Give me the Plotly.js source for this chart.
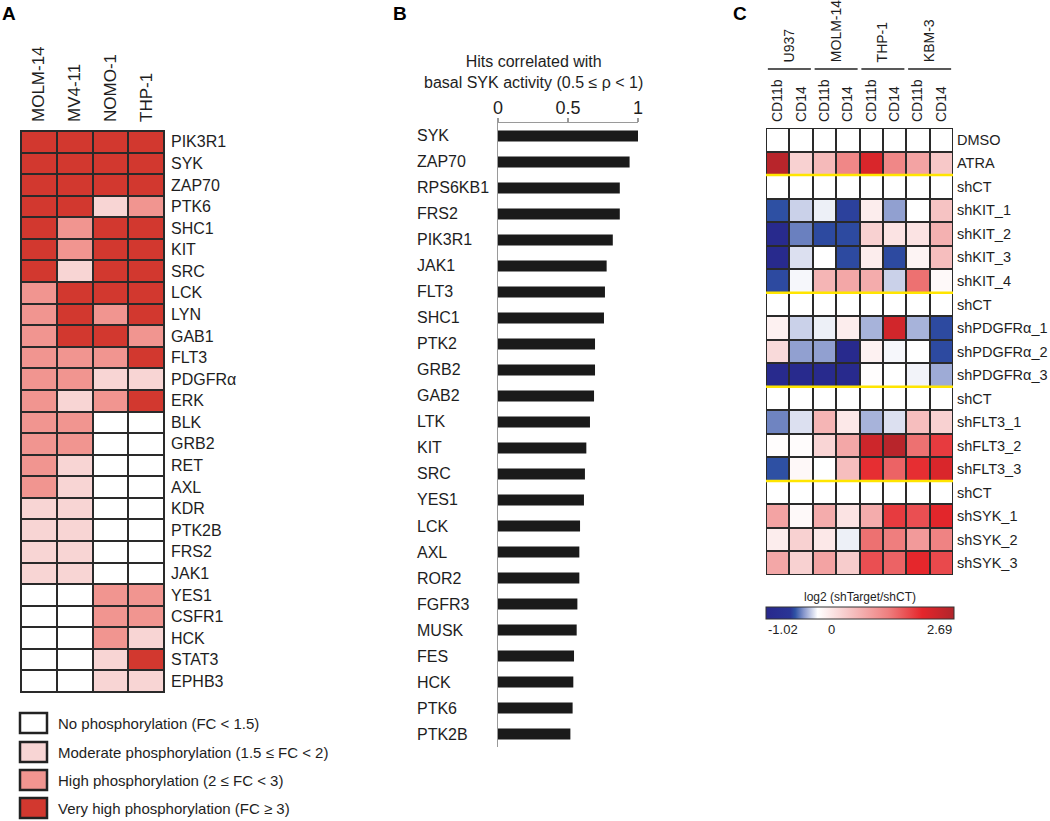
<!DOCTYPE html>
<html>
<head>
<meta charset="utf-8">
<script src="https://cdn.plot.ly/plotly-3.0.1.min.js"></script>
<style>html,body{margin:0;padding:0;background:#fff;}#chart{width:1050px;height:821px;}</style>
</head>
<body>
<div id="chart"></div>
<script>
// ---------- Panel A data ----------
const aCols = ['MOLM-14', 'MV4-11', 'NOMO-1', 'THP-1'];
const aGenes = ['PIK3R1','SYK','ZAP70','PTK6','SHC1','KIT','SRC','LCK','LYN','GAB1','FLT3','PDGFRα','ERK',
  'BLK','GRB2','RET','AXL','KDR','PTK2B','FRS2','JAK1','YES1','CSFR1','HCK','STAT3','EPHB3'];
// 0 = none, 1 = moderate, 2 = high, 3 = very high
const aLevels = [
  [3,3,3,3],[3,3,3,3],[3,3,3,3],[3,3,1,2],[3,2,3,3],[3,2,3,3],[3,1,3,3],[2,3,3,3],[2,3,2,3],[2,3,3,2],
  [2,2,2,3],[2,2,1,1],[2,1,2,3],[2,2,0,0],[2,2,0,0],[2,1,0,0],[2,1,0,0],[1,1,0,0],[1,1,0,0],[1,1,0,0],
  [1,1,0,0],[0,0,2,2],[0,0,2,2],[0,0,2,1],[0,0,1,3],[0,0,1,1]
];
const aLegend = ['No phosphorylation (FC < 1.5)', 'Moderate phosphorylation (1.5 ≤ FC < 2)',
  'High phosphorylation (2 ≤ FC < 3)', 'Very high phosphorylation (FC ≥ 3)'];
const aPalette = ['#ffffff', '#f8d5d4', '#f19590', '#d2382f'];

// ---------- Panel B data ----------
const bGenes = ['SYK','ZAP70','RPS6KB1','FRS2','PIK3R1','JAK1','FLT3','SHC1','PTK2','GRB2','GAB2','LTK',
  'KIT','SRC','YES1','LCK','AXL','ROR2','FGFR3','MUSK','FES','HCK','PTK6','PTK2B'];
const bRho = [1.0,0.94,0.87,0.87,0.82,0.776,0.764,0.757,0.693,0.693,0.686,0.657,
  0.631,0.621,0.614,0.586,0.581,0.581,0.567,0.562,0.543,0.538,0.533,0.517];
const bTicks = [0, 0.5, 1];
const bTickText = ['0', '0.5', '1'];

// ---------- Panel C data ----------
const cCols = ['CD11b','CD14','CD11b','CD14','CD11b','CD14','CD11b','CD14'];
const cGroups = ['U937','MOLM-14','THP-1','KBM-3'];
const cRows = ['DMSO','ATRA','shCT','shKIT_1','shKIT_2','shKIT_3','shKIT_4','shCT',
  'shPDGFRα_1','shPDGFRα_2','shPDGFRα_3','shCT','shFLT3_1','shFLT3_2','shFLT3_3','shCT',
  'shSYK_1','shSYK_2','shSYK_3'];
const cValues = [
  [0,0,0,0,0,0,0,0],
  [2.6,0.5,0.75,1.3,2.2,1.3,1.0,0.6],
  [0,0,0,0,0,0,0,0],
  [-0.45,-0.12,-0.04,-0.5,0.2,-0.25,0,0.65],
  [-0.95,-0.33,-0.47,-0.47,0.5,0.3,0.3,0.85],
  [-0.95,-0.08,0,-0.47,0.2,-0.47,0.12,0.7],
  [-0.47,-0.02,0.8,0.95,0.9,-0.12,1.5,0.06],
  [0,0,0,0,0,0,0,0],
  [0.15,-0.12,-0.04,0.2,-0.2,2.3,-0.2,-0.47],
  [0.4,-0.25,-0.25,-0.95,0.15,-0.02,0,-0.47],
  [-0.95,-0.95,-0.95,-0.95,0.02,0,-0.03,-0.22],
  [0,0,0,0,0,0,0,0],
  [-0.32,-0.08,0.8,0.25,-0.2,-0.08,0.7,0.5],
  [0.02,0.03,0.45,0.95,2.35,2.6,1.5,1.9],
  [-0.45,0.08,0,0.7,2.0,1.6,2.0,2.2],
  [0,0,0,0,0,0,0,0],
  [1.0,0.06,0.9,0.3,0.9,1.9,1.75,2.1],
  [0.2,0.5,0.25,-0.04,1.5,1.4,1.1,1.35],
  [0.95,0.5,1.0,0.55,1.75,1.6,2.05,1.8]
];
const cMin = -1.02, cMax = 2.69;
const cbTickText = ['-1.02', '0', '2.69'];

// ---------- helpers ----------
const W = 1050, H = 821;
const px = v => v / W;
const py = v => 1 - v / H;
const FONT = 'Liberation Sans, Arial, Helvetica, sans-serif';
const INK = '#1e1e1e';
const BORDER = '#2a2a2a';

const cX = cCols.map((_, i) => i);
const cY = cRows.map((_, i) => i);

const aScale = [[0, aPalette[0]], [0.1667, aPalette[0]], [0.1667, aPalette[1]], [0.5, aPalette[1]],
  [0.5, aPalette[2]], [0.8333, aPalette[2]], [0.8333, aPalette[3]], [1, aPalette[3]]];

const cScale = [[0,'#28288c'],[0.13,'#2a3596'],[0.155,'#2e52a4'],[0.2,'#8595cb'],[0.275,'#ffffff'],
  [0.45,'#f6c3c3'],[0.65,'#ef7f7f'],[0.83,'#e5262b'],[1,'#b0252b']];

const traces = [
  {
    type: 'heatmap', x: aCols, y: aGenes, z: aLevels, xaxis: 'x', yaxis: 'y',
    zmin: 0, zmax: 3, colorscale: aScale, showscale: false, xgap: 2, ygap: 2, hoverinfo: 'skip'
  },
  {
    type: 'bar', orientation: 'h', x: bRho, y: bGenes, xaxis: 'x2', yaxis: 'y2',
    marker: { color: '#1a1a1a' }, width: 0.42, hoverinfo: 'skip'
  },
  {
    type: 'heatmap', x: cX, y: cY, z: cValues, xaxis: 'x3', yaxis: 'y3',
    zmin: cMin, zmax: cMax, colorscale: cScale, xgap: 2, ygap: 2, hoverinfo: 'skip',
    colorbar: {
      orientation: 'h', x: px(860), xanchor: 'center', y: py(620), yanchor: 'bottom',
      len: 188, lenmode: 'pixels', thickness: 12, thicknessmode: 'pixels',
      outlinecolor: '#333', outlinewidth: 1, showticklabels: false, ticks: '',
      xpad: 0, ypad: 0,
      title: { text: 'log2 (shTarget/shCT)', side: 'top', font: { size: 12, color: INK, family: FONT } }
    }
  }
];

const shapes = [];
const annotations = [];

// Panel A borders
shapes.push({ type: 'rect', xref: 'x', yref: 'y', x0: -0.5, x1: aCols.length - 0.5, y0: -0.5, y1: aGenes.length - 0.5,
  fillcolor: BORDER, line: { width: 0 }, layer: 'below' });
shapes.push({ type: 'rect', xref: 'x', yref: 'y', x0: -0.5, x1: aCols.length - 0.5, y0: -0.5, y1: aGenes.length - 0.5,
  line: { color: BORDER, width: 2 } });

// Panel A legend
const legTops = [713, 742, 770, 798];
aLegend.forEach((t, i) => {
  shapes.push({ type: 'rect', xref: 'paper', yref: 'paper', x0: px(20), x1: px(47), y0: py(legTops[i]), y1: py(legTops[i] + 20),
    fillcolor: aPalette[i], line: { color: '#222', width: 2.5 } });
  annotations.push({ xref: 'paper', yref: 'paper', x: px(56), y: py(legTops[i] + 10), xanchor: 'left', yanchor: 'middle',
    text: t, showarrow: false, font: { size: 15, color: INK, family: FONT } });
});

// Panel B labels and title
bGenes.forEach(g => {
  annotations.push({ xref: 'paper', yref: 'y2', x: px(415), y: g, xanchor: 'left', yanchor: 'middle',
    text: g, showarrow: false, font: { size: 16, color: INK, family: FONT } });
});
annotations.push({ xref: 'paper', yref: 'paper', x: px(533), y: py(72), xanchor: 'center', yanchor: 'middle',
  text: 'Hits correlated with<br>basal SYK activity (0.5 ≤ ρ < 1)', showarrow: false,
  font: { size: 16, color: INK, family: FONT } });

// Panel C borders
shapes.push({ type: 'rect', xref: 'x3', yref: 'y3', x0: -0.5, x1: cCols.length - 0.5, y0: -0.5, y1: cRows.length - 0.5,
  fillcolor: BORDER, line: { width: 0 }, layer: 'below' });
shapes.push({ type: 'rect', xref: 'x3', yref: 'y3', x0: -0.5, x1: cCols.length - 0.5, y0: -0.5, y1: cRows.length - 0.5,
  line: { color: BORDER, width: 2 } });
// yellow separators before each shCT block
cRows.forEach((r, i) => {
  if (i + 1 < cRows.length && cRows[i + 1] === 'shCT') {
    shapes.push({ type: 'line', xref: 'x3', yref: 'y3', x0: -0.5, x1: cCols.length - 0.5, y0: i + 0.5, y1: i + 0.5,
      line: { color: '#ffe500', width: 2.5 } });
  }
});
// group lines and labels
cGroups.forEach((g, k) => {
  shapes.push({ type: 'line', xref: 'x3', yref: 'paper', x0: 2 * k - 0.42, x1: 2 * k + 1.42, y0: py(69), y1: py(69),
    line: { color: '#222', width: 1.5 } });
  annotations.push({ xref: 'x3', yref: 'paper', x: 2 * k + 0.5, y: py(64), xanchor: 'center', yanchor: 'bottom',
    textangle: -90, text: g, showarrow: false, font: { size: 14, color: INK, family: FONT } });
});
// colorbar tick labels
const cbPos = [[766, 'left'], [831, 'center'], [954, 'right']];
cbTickText.forEach((t, i) => {
  annotations.push({ xref: 'paper', yref: 'paper', x: px(cbPos[i][0]), y: py(629), xanchor: cbPos[i][1], yanchor: 'middle',
    text: t, showarrow: false, font: { size: 13, color: INK, family: FONT } });
});

// Panel letters
[['A', 9], ['B', 400], ['C', 740]].forEach(([t, x]) => {
  annotations.push({ xref: 'paper', yref: 'paper', x: px(x), y: py(14), xanchor: 'center', yanchor: 'middle',
    text: '<b>' + t + '</b>', showarrow: false, font: { size: 19, color: '#000', family: FONT } });
});

const layout = {
  width: W, height: H,
  margin: { l: 0, r: 0, t: 0, b: 0, pad: 0 },
  paper_bgcolor: '#ffffff', plot_bgcolor: 'rgba(0,0,0,0)',
  showlegend: false,
  font: { family: FONT, color: INK },
  xaxis: {
    domain: [px(20), px(165)], anchor: 'y', side: 'top', type: 'category', tickangle: -90,
    ticks: '', showline: false, showgrid: false, zeroline: false, fixedrange: true,
    tickfont: { size: 17, color: INK, family: FONT }, ticklabelstandoff: 7
  },
  yaxis: {
    domain: [py(693), py(130)], anchor: 'x', side: 'right', type: 'category', autorange: 'reversed',
    ticks: '', showline: false, showgrid: false, zeroline: false, fixedrange: true,
    tickfont: { size: 16, color: INK, family: FONT }, ticklabelstandoff: 5
  },
  xaxis2: {
    domain: [px(498), px(638)], anchor: 'y2', side: 'top', range: [0, 1],
    tickvals: bTicks, ticktext: bTickText, ticks: 'outside', ticklen: 4, tickcolor: '#9a9a9a', tickwidth: 1.2,
    showline: true, linecolor: '#9a9a9a', linewidth: 1.5, showgrid: false, zeroline: false, fixedrange: true,
    tickfont: { size: 18, color: INK, family: FONT }, ticklabelstandoff: -4
  },
  yaxis2: {
    domain: [py(747), py(123)], anchor: 'x2', type: 'category', autorange: 'reversed',
    showticklabels: false, ticks: '', showline: true, linecolor: '#9a9a9a', linewidth: 1.5,
    showgrid: false, zeroline: false, fixedrange: true
  },
  xaxis3: {
    domain: [px(766), px(953)], anchor: 'y3', side: 'top', range: [-0.5, cCols.length - 0.5],
    tickvals: cX, ticktext: cCols, tickangle: -90, ticks: '', showline: false, showgrid: false, zeroline: false,
    fixedrange: true, tickfont: { size: 14, color: INK, family: FONT }, ticklabelstandoff: 5
  },
  yaxis3: {
    domain: [py(575), py(128)], anchor: 'x3', side: 'right', range: [cRows.length - 0.5, -0.5],
    tickvals: cY, ticktext: cRows, ticks: '', showline: false, showgrid: false, zeroline: false,
    fixedrange: true, tickfont: { size: 14.5, color: INK, family: FONT }, ticklabelstandoff: 3
  },
  shapes: shapes,
  annotations: annotations
};

Plotly.newPlot('chart', traces, layout, { displayModeBar: false, staticPlot: true });
</script>
</body>
</html>
